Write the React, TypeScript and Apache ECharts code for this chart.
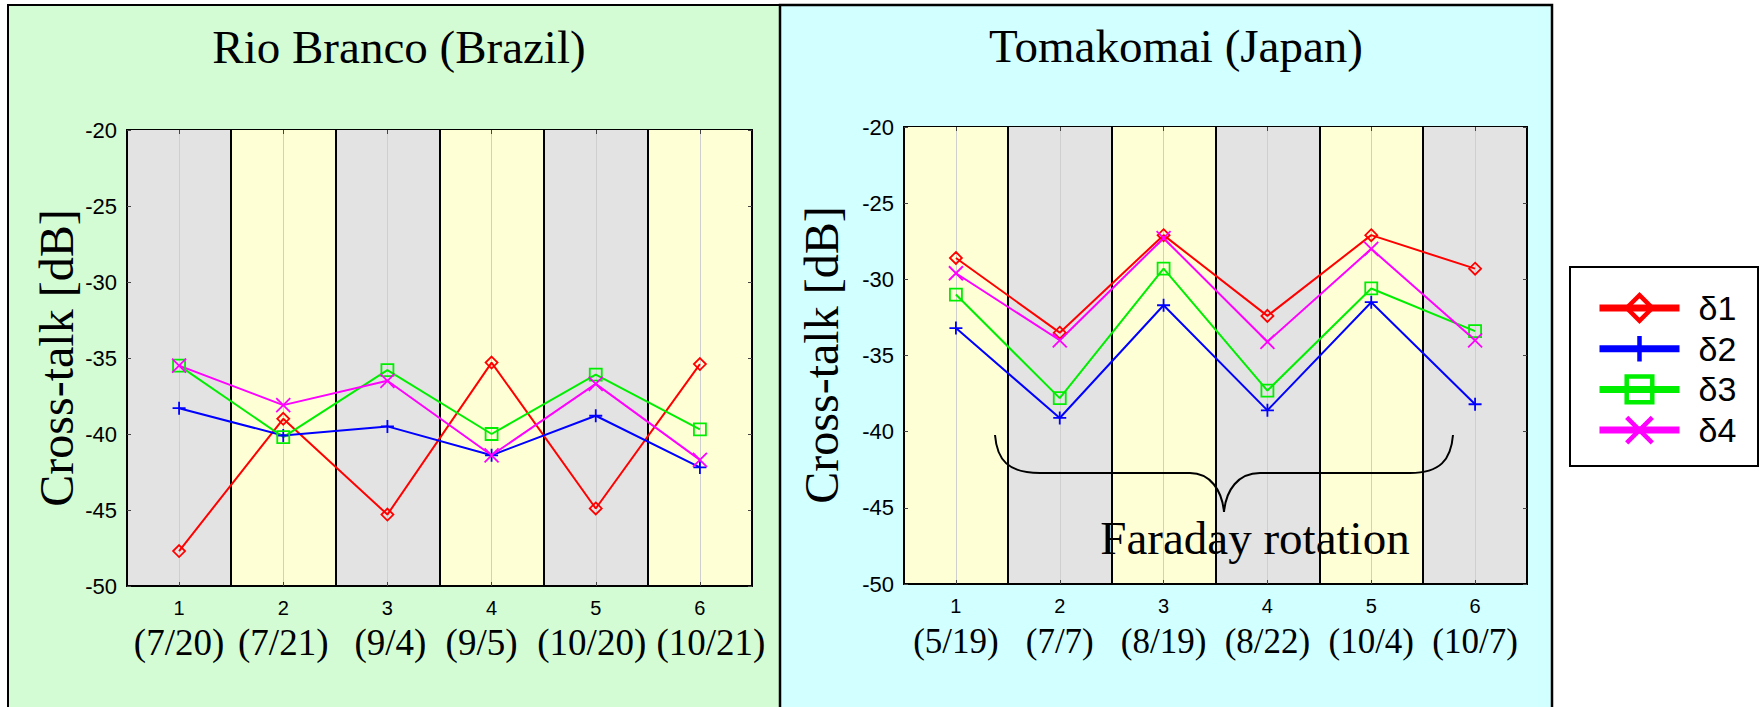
import React, { useEffect, useRef } from 'react';
import * as echarts from 'echarts';

const SERIF = '"Liberation Serif", "Times New Roman", serif';
const SANS = '"Liberation Sans", Arial, sans-serif';

const categories = ['1', '2', '3', '4', '5', '6'];
const rioDates = ['(7/20)', '(7/21)', '(9/4)', '(9/5)', '(10/20)', '(10/21)'];
const tomaDates = ['(5/19)', '(7/7)', '(8/19)', '(8/22)', '(10/4)', '(10/7)'];

const seriesNames = ['δ1', 'δ2', 'δ3', 'δ4'];

const rioD1 = [-47.7, -39.0, -45.3, -35.3, -44.9, -35.4];
const rioD2 = [-38.3, -40.1, -39.5, -41.4, -38.8, -42.2];
const rioD3 = [-35.5, -40.2, -35.8, -40.0, -36.1, -39.7];
const rioD4 = [-35.5, -38.1, -36.5, -41.4, -36.7, -41.7];

const tomaD1 = [-28.6, -33.5, -27.1, -32.4, -27.1, -29.3];
const tomaD2 = [-33.2, -39.1, -31.7, -38.6, -31.5, -38.2];
const tomaD3 = [-31.0, -37.8, -29.3, -37.3, -30.6, -33.4];
const tomaD4 = [-29.6, -34.0, -27.3, -34.1, -28.0, -34.0];

const yMin = -50;
const yMax = -20;
const yStep = 5;

const colors = ['#ff0000', '#0000ff', '#00ee00', '#ff00ff'];
const symbols = ['diamond', 'path://M0,5L10,5M5,0L5,10', 'rect', 'path://M0,0L10,10M10,0L0,10'];
const symbolSizes = [12, 13, 12, 14];

const GRAY = '#e3e3e3';
const YELLOW = '#ffffd6';

// horizontal nudges (px) of the date labels, as placed in the original figure
const rioLabelShift = [0, 0, 3, -10, -4, 11];
const tomaLabelShift = [0, 0, 0, 0, 0, 0];

const BRACE =
  'M995,435 C997,460 1008,473 1040,473 L1190,473 C1210,473 1222,490 1224,512 C1226,490 1238,473 1260,473 L1410,473 C1440,473 1451,460 1453,435';

let braceRegistered = false;
function registerBrace() {
  if (braceRegistered) return;
  echarts.graphic.registerShape('brace', echarts.graphic.extendPath(BRACE, {}) as any);
  braceRegistered = true;
}

function makeXAxis(gi: number, dates: string[], shifts: number[], bands: string[], dateSize: number, dateLH: number) {
  const rich: any = {
    n: { fontSize: 20, fontFamily: SANS, lineHeight: 30, color: '#000' },
  };
  shifts.forEach((s, i) => {
    rich['d' + i] = {
      fontSize: dateSize,
      fontFamily: SERIF,
      lineHeight: dateLH,
      color: '#000',
      padding: s >= 0 ? [0, 0, 0, 2 * s] : [0, -2 * s, 0, 0],
    };
  });
  return {
    type: 'category',
    gridIndex: gi,
    data: categories,
    boundaryGap: true,
    axisLine: { show: true, lineStyle: { color: '#000', width: 2 } },
    axisTick: { show: true, inside: true, alignWithLabel: true, length: 4, lineStyle: { color: '#444' } },
    axisLabel: {
      interval: 0,
      hideOverlap: false,
      margin: 7,
      formatter: (v: string) => {
        const i = categories.indexOf(v);
        return `{n|${v}}\n{d${i}|${dates[i]}}`;
      },
      rich,
    },
    splitLine: { show: true, interval: 0, lineStyle: { color: '#000', width: 2 } },
    splitArea: { show: true, interval: 0, areaStyle: { color: bands } },
  };
}

// hidden top axis: light vertical gridlines and small ticks at category centres
function makeCenterAxis(gi: number) {
  return {
    type: 'value',
    gridIndex: gi,
    position: 'top',
    min: 0,
    max: 12,
    interval: 2,
    axisLine: { show: false },
    axisTick: { show: false, inside: true },
    axisLabel: { show: false },
    splitLine: { show: false },
    minorTick: { show: true, splitNumber: 2, length: 4, lineStyle: { color: '#444', width: 1 } },
    minorSplitLine: { show: true, lineStyle: { color: '#cfcfcf', width: 1 } },
  };
}

function makeYAxis(gi: number) {
  return {
    type: 'value',
    gridIndex: gi,
    min: yMin,
    max: yMax,
    interval: yStep,
    axisLine: { show: true, lineStyle: { color: '#000', width: 2 } },
    axisTick: { show: true, inside: true, length: 4, lineStyle: { color: '#444' } },
    axisLabel: { fontSize: 22, fontFamily: SANS, color: '#000', margin: 10 },
    splitLine: { show: true, lineStyle: { color: '#cfcfcf', width: 1 } },
  };
}

function makeRightYAxis(gi: number) {
  return {
    type: 'value',
    gridIndex: gi,
    position: 'right',
    min: yMin,
    max: yMax,
    interval: yStep,
    axisLine: { show: false },
    axisTick: { show: true, inside: true, length: 4, lineStyle: { color: '#444' } },
    axisLabel: { show: false },
    splitLine: { show: false },
  };
}

function makeSeries(gi: number, data: number[], k: number) {
  return {
    type: 'line',
    name: seriesNames[k],
    xAxisIndex: gi,
    yAxisIndex: gi,
    data,
    z: 3,
    symbol: symbols[k],
    symbolSize: symbolSizes[k],
    showAllSymbol: true,
    lineStyle: { color: colors[k], width: 2 },
    itemStyle: { color: 'none', borderColor: colors[k], borderWidth: 1.8 },
    emphasis: { disabled: true },
    silent: true,
  };
}

export default function App() {
  const ref = useRef<HTMLDivElement>(null);

  useEffect(() => {
    if (!ref.current) return;
    registerBrace();
    const chart = echarts.init(ref.current, undefined, { renderer: 'svg' });
    const rio = [rioD1, rioD2, rioD3, rioD4];
    const toma = [tomaD1, tomaD2, tomaD3, tomaD4];
    const option: any = {
      animation: false,
      backgroundColor: '#ffffff',
      grid: [
        { left: 127, top: 130, width: 625, height: 456, show: true, borderColor: '#000', borderWidth: 2, backgroundColor: 'transparent' },
        { left: 904, top: 127, width: 623, height: 457, show: true, borderColor: '#000', borderWidth: 2, backgroundColor: 'transparent' },
      ],
      xAxis: [
        makeXAxis(0, rioDates, rioLabelShift, [GRAY, YELLOW], 37, 38),
        makeXAxis(1, tomaDates, tomaLabelShift, [YELLOW, GRAY], 35, 40),
        makeCenterAxis(0),
        makeCenterAxis(1),
      ],
      yAxis: [makeYAxis(0), makeYAxis(1), makeRightYAxis(0), makeRightYAxis(1)],
      legend: {
        data: seriesNames,
        orient: 'vertical',
        left: 1596,
        top: 291,
        padding: 0,
        itemWidth: 80,
        itemHeight: 32,
        itemGap: 6.7,
        selectedMode: false,
        textStyle: { fontSize: 34, fontFamily: SANS, color: '#000', lineHeight: 32, padding: [0, 0, 0, 14] },
        lineStyle: { width: 7 },
        itemStyle: { borderWidth: 4.5 },
      },
      series: [
        ...rio.map((d, k) => makeSeries(0, d, k)),
        ...toma.map((d, k) => makeSeries(1, d, k)),
      ],
      graphic: [
        { type: 'rect', z: -10, silent: true, shape: { x: 8, y: 5, width: 772, height: 720 }, style: { fill: '#d4fcd4', stroke: '#000', lineWidth: 2 } },
        { type: 'rect', z: -10, silent: true, shape: { x: 780, y: 5, width: 772, height: 720 }, style: { fill: '#d2ffff', stroke: '#000', lineWidth: 2.5 } },
        { type: 'rect', z: -10, silent: true, shape: { x: 1570, y: 267, width: 188, height: 199 }, style: { fill: '#ffffff', stroke: '#000', lineWidth: 2 } },
        {
          type: 'text', z: 100, x: 399, y: 47, silent: true,
          style: { text: 'Rio Branco (Brazil)', fontSize: 47, fontFamily: SERIF, fill: '#000', textAlign: 'center', align: 'center', textVerticalAlign: 'middle', verticalAlign: 'middle' },
        },
        {
          type: 'text', z: 100, x: 1176, y: 46, silent: true,
          style: { text: 'Tomakomai (Japan)', fontSize: 47, fontFamily: SERIF, fill: '#000', textAlign: 'center', align: 'center', textVerticalAlign: 'middle', verticalAlign: 'middle' },
        },
        {
          type: 'text', z: 100, x: 56, y: 358, rotation: Math.PI / 2, silent: true,
          style: { text: 'Cross-talk [dB]', fontSize: 48, fontFamily: SERIF, fill: '#000', textAlign: 'center', align: 'center', textVerticalAlign: 'middle', verticalAlign: 'middle' },
        },
        {
          type: 'text', z: 100, x: 821, y: 355, rotation: Math.PI / 2, silent: true,
          style: { text: 'Cross-talk [dB]', fontSize: 48, fontFamily: SERIF, fill: '#000', textAlign: 'center', align: 'center', textVerticalAlign: 'middle', verticalAlign: 'middle' },
        },
        {
          type: 'text', z: 100, x: 1255, y: 538, silent: true,
          style: { text: 'Faraday rotation', fontSize: 47, fontFamily: SERIF, fill: '#000', textAlign: 'center', align: 'center', textVerticalAlign: 'middle', verticalAlign: 'middle' },
        },
        { type: 'brace', z: 100, x: 0, y: 0, silent: true, style: { fill: 'none', stroke: '#000', lineWidth: 2 } },
      ],
    };
    chart.setOption(option);
    return () => {
      chart.dispose();
    };
  }, []);

  return (
    <div
      ref={ref}
      style={{ position: 'fixed', left: 0, top: 0, width: 1760, height: 707, background: '#fff' }}
    />
  );
}
